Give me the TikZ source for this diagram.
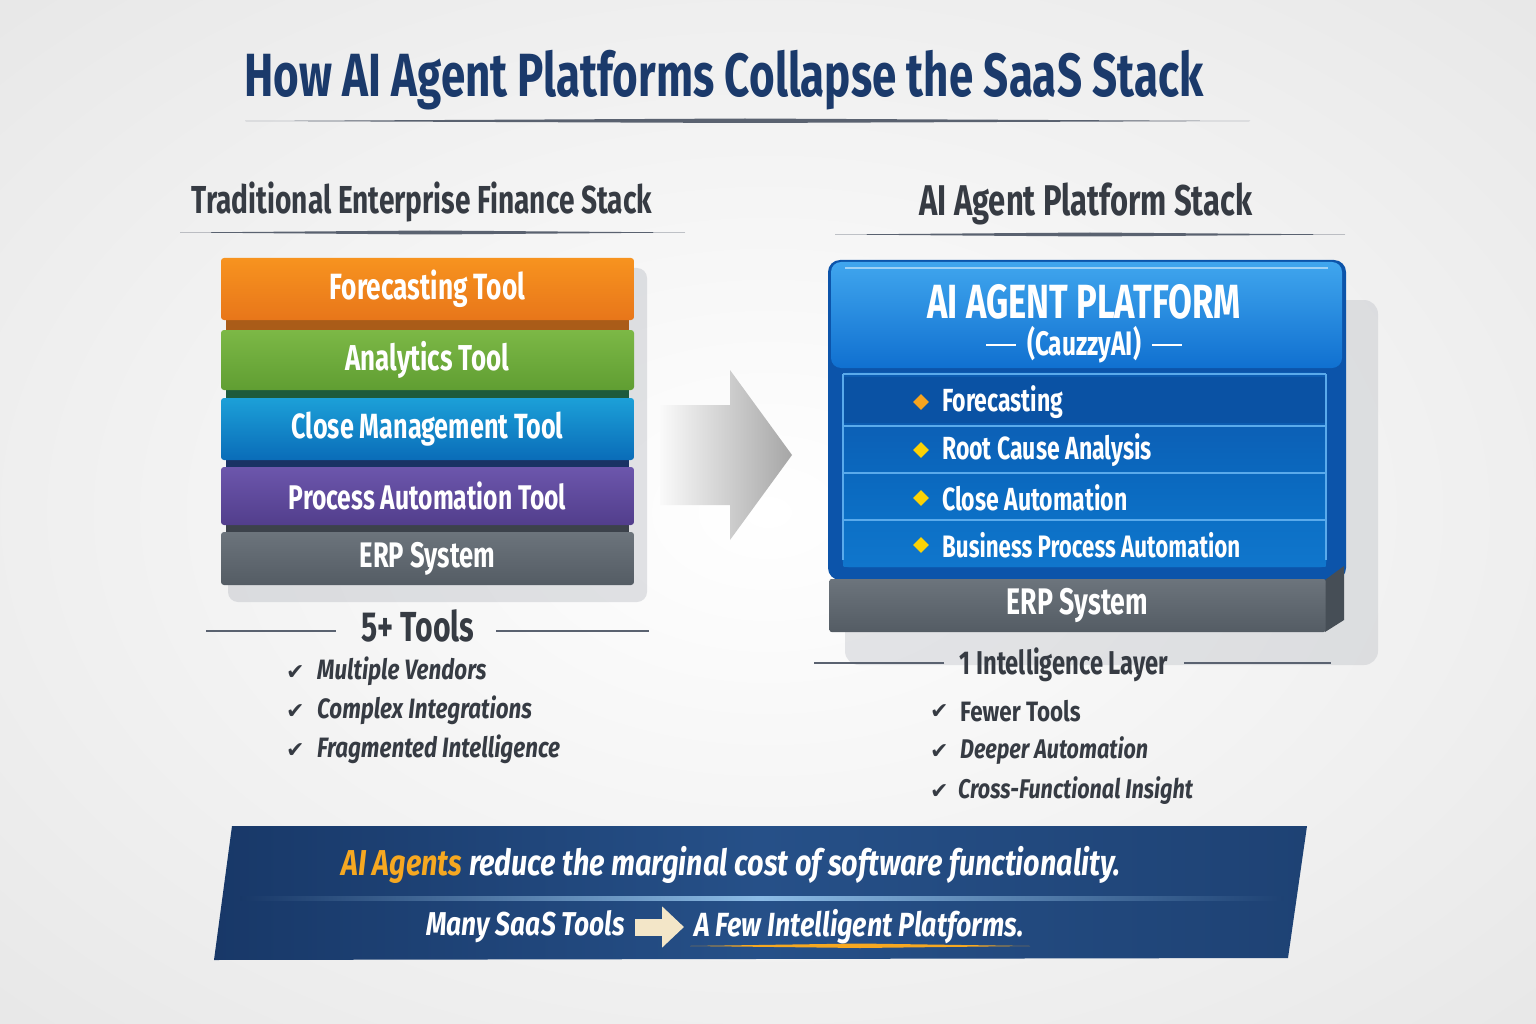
\documentclass[tikz,border=0pt]{standalone}
\usepackage{fontspec}
\setmainfont{Fira Sans}[FakeStretch=0.72]
\newfontfamily\wfont{Fira Sans}[FakeStretch=0.8]
\newfontfamily\symf{DejaVu Sans}
\usetikzlibrary{shapes.geometric,arrows.meta}
\definecolor{navy}{HTML}{1B3A6B}
\definecolor{dgray}{HTML}{363B43}
\definecolor{lgray}{HTML}{5A6270}
\definecolor{gold}{HTML}{F6A821}
\definecolor{cream}{HTML}{F3E6C8}
\definecolor{orT}{HTML}{F7931F}\definecolor{orB}{HTML}{E8761A}\definecolor{orE}{HTML}{AA5C18}
\definecolor{grT}{HTML}{7CB846}\definecolor{grB}{HTML}{609E32}\definecolor{grE}{HTML}{1E5A3C}
\definecolor{blT}{HTML}{1CA0D8}\definecolor{blB}{HTML}{0A6CB8}\definecolor{blE}{HTML}{193264}
\definecolor{puT}{HTML}{6C56AC}\definecolor{puB}{HTML}{523E8C}\definecolor{puE}{HTML}{3C424B}
\definecolor{gyT}{HTML}{6C747C}\definecolor{gyB}{HTML}{545C64}\definecolor{gyS}{HTML}{464E56}
\definecolor{pfFrame}{HTML}{0C54AA}\definecolor{pfT}{HTML}{40A6EE}\definecolor{pfB}{HTML}{1070D0}
\definecolor{pfList}{HTML}{0C5CB2}\definecolor{rowA}{HTML}{0A52A4}\definecolor{rowB}{HTML}{0C60B6}
\definecolor{rowC}{HTML}{0B68BE}\definecolor{rowD}{HTML}{0C70C6}\definecolor{rowE}{HTML}{1076CC}
\definecolor{rowLine}{HTML}{5AAAEB}
\definecolor{bnL}{HTML}{183868}\definecolor{bnM}{HTML}{265088}\definecolor{bnR}{HTML}{1E4274}
\definecolor{bnLine}{HTML}{8CBCE6}
\newcommand{\fs}[1]{\fontsize{#1}{#1}\selectfont}
\tikzset{
  blk/.style={rounded corners=3pt, minimum width=413, text=white, font=\bfseries\fs{35.5}, inner sep=0pt},
  rowbox/.style={minimum width=482, minimum height=46, inner sep=0pt},
  rowtxt/.style={anchor=west, text=white, font=\bfseries\fs{32}, inner sep=0pt},
  dia/.style={diamond, minimum size=16, inner sep=0pt},
  chk/.style={anchor=west, text=dgray, font=\symf\fs{22}, inner sep=0pt},
  itm/.style={anchor=west, text=dgray, font=\wfont\bfseries\itshape\fs{28}, inner sep=0pt},
  sepl/.style={draw=lgray, line width=1.2pt},
  head/.style={text=dgray, font=\bfseries\fs{39}},
}
\begin{document}
\begin{tikzpicture}[x=1pt,y=-1pt]
\useasboundingbox (0,0) rectangle (1536,1024);
% background
\shade[inner color=white, outer color=black!9] (-300,-200) rectangle (1836,1224);
% ---------- title ----------
\node[text=navy, font=\bfseries\fs{61}] (title) at (724,80) {How AI Agent Platforms Collapse the SaaS Stack};
\fill[lgray] (245,121) -- (745,118.5) -- (1250,121) -- (745,123) -- cycle;
% ---------- headings ----------
\node[head] (lh) at (422,202) {Traditional Enterprise Finance Stack};
\fill[lgray] (180,232.5) -- (430,230.5) -- (685,232.5) -- (430,234.5) -- cycle;
\node[head, font=\bfseries\fs{43}] (rh) at (1086,204) {AI Agent Platform Stack};
\fill[lgray] (835,234.5) -- (1090,232.5) -- (1345,234.5) -- (1090,236.5) -- cycle;
% ---------- left stack ----------
\fill[lgray!50, opacity=0.35, rounded corners=10pt] (228,268) rectangle (647,602);
\fill[orE] (226,318) rectangle (629,330);
\fill[grE] (226,388) rectangle (629,400);
\fill[blE] (226,458) rectangle (629,469);
\fill[puE] (226,523) rectangle (629,534);
\node[blk, minimum height=62, top color=orT, bottom color=orB, font=\bfseries\fs{36.5}] (fc) at (427.5,289) {Forecasting Tool};
\node[blk, minimum height=60, top color=grT, bottom color=grB, font=\bfseries\fs{36}] (an) at (427.5,360) {Analytics Tool};
\node[blk, minimum height=62, top color=blT, bottom color=blB, font=\bfseries\fs{35}] (cm) at (427.5,429) {Close Management Tool};
\node[blk, minimum height=58, top color=puT, bottom color=puB, font=\bfseries\fs{34.2}] (pa) at (427.5,496) {Process Automation Tool};
\node[blk, minimum height=53, top color=gyT, bottom color=gyB] (erp1) at (427.5,558.5) {ERP System};
% ---------- middle arrow ----------
\shade[left color=black!2, right color=black!35] (660,405) -- (730,405) -- (730,370) -- (792,455) -- (730,540) -- (730,505) -- (660,505) -- cycle;
% ---------- right platform ----------
\fill[lgray!50, opacity=0.3, rounded corners=14pt] (845,300) rectangle (1378,665);
\fill[pfFrame, rounded corners=12pt] (828,260) rectangle (1346,580);
\shade[rounded corners=10pt, top color=pfT, bottom color=pfB] (831,262) rectangle (1342,368);
\draw[white, line width=2pt, opacity=0.5] (845,268) -- (1328,268);
\node[text=white, font=\bfseries\fs{34}, inner sep=0pt, align=center] (pt) at (1084,324)
  {{\fs{48}AI AGENT PLATFORM}\\[3pt]\rule[0.28em]{30pt}{2.2pt}\hspace{11pt}(CauzzyAI)\hspace{11pt}\rule[0.28em]{30pt}{2.2pt}};
\fill[pfList, rounded corners=8pt] (842,372) rectangle (1327,568);
\node[rowbox, fill=rowA] (r1) at (1084.5,400) {};
\node[rowbox, top color=rowB, bottom color=rowC] (r2) at (1084.5,450) {};
\node[rowbox, top color=rowC, bottom color=rowD] (r3) at (1084.5,497) {};
\node[rowbox, top color=rowD, bottom color=rowE] (r4) at (1084.5,543) {};
\foreach \yy in {374,426,473,520} \draw[rowLine, line width=2pt] (843,\yy) -- (1326,\yy);
\draw[rowLine, line width=1.5pt] (843,374) -- (843,560);
\draw[rowLine, line width=1.5pt] (1326,374) -- (1326,560);
\node[dia, fill=gold!90!orange] (d1) at (921,402) {};
\node[dia, fill=yellow!70!orange] (d2) at (921,450) {};
\node[dia, fill=yellow!70!orange] (d3) at (921,498) {};
\node[dia, fill=yellow!70!orange] (d4) at (921,545) {};
\node[rowtxt] (t1) at (942,402) {Forecasting};
\node[rowtxt] (t2) at (942,450) {Root Cause Analysis};
\node[rowtxt] (t3) at (942,498) {Close Automation};
\node[rowtxt, font=\bfseries\fs{31}] (t4) at (942,545) {Business Process Automation};
% right ERP
\fill[gyS] (1325,580) -- (1344,566) -- (1344,620) -- (1325,632) -- cycle;
\node[blk, rounded corners=2pt, minimum width=496, minimum height=53, top color=gyT, bottom color=gyB, font=\bfseries\fs{37}] (erp2) at (1077.5,605.5) {ERP System};
% ---------- left summary ----------
\node[text=dgray, font=\bfseries\fs{42}] (tools) at (418,626) {5+ Tools};
\draw[sepl] ([xshift=-22pt,yshift=-5pt]tools.west) -- ++(-130,0);
\draw[sepl] ([xshift=18pt,yshift=-5pt]tools.east) -- ++(153,0);
\node[chk] (c1) at (286,673) {✔};
\node[chk] (c2) at (286,712) {✔};
\node[chk] (c3) at (286,751) {✔};
\node[itm] (l1) at (317,671) {Multiple Vendors};
\node[itm] (l2) at (317,710) {Complex Integrations};
\node[itm] (l3) at (317,749) {Fragmented Intelligence};
% ---------- right summary ----------
\node[text=dgray, font=\bfseries\fs{33}] (layer) at (1064,665) {1 Intelligence Layer};
\draw[sepl] ([xshift=-12pt,yshift=2pt]layer.west) -- ++(-130,0);
\draw[sepl] ([xshift=12pt,yshift=2pt]layer.east) -- ++(147,0);
\node[chk] (c4) at (930,712) {✔};
\node[chk] (c5) at (930,752) {✔};
\node[chk] (c6) at (930,792) {✔};
\node[itm, font=\wfont\bfseries\fs{28}] (r5) at (960,711) {Fewer Tools};
\node[itm, font=\wfont\bfseries\itshape\fs{27}] (r6) at (960,751) {Deeper Automation};
\node[itm, font=\wfont\bfseries\itshape\fs{27}] (r7) at (958,791) {Cross-Functional Insight};
% ---------- banner ----------
\shade[left color=bnL, right color=bnR, middle color=bnM] (232,826) -- (1307,826) -- (1288,958) -- (214,960) -- cycle;
\shade[left color=bnL, right color=bnR, middle color=bnLine] (240,896.5) -- (1283,896.5) -- (1283,900) -- (240,900) -- cycle;
\node[text=white, font=\wfont\bfseries\itshape\fs{36}] (b1) at (731,865) {\textcolor{gold}{AI Agents} reduce the marginal cost of software functionality.};
\node[text=white, font=\wfont\bfseries\itshape\fs{33}, anchor=east, inner sep=0pt] (m1) at (625,927) {Many SaaS Tools};
\node[text=white, font=\wfont\bfseries\itshape\fs{33.5}, anchor=west, inner sep=0pt] (m2) at (694,927) {A Few Intelligent Platforms.};
\draw[-{Triangle[length=22pt,width=40pt]}, line width=17pt, cream] ([xshift=10pt]m1.east) -- ([xshift=-10pt]m2.west);
\fill[gold] (690,946) -- (860,943.5) -- (1030,946) -- (860,948) -- cycle;
\end{tikzpicture}
\end{document}
